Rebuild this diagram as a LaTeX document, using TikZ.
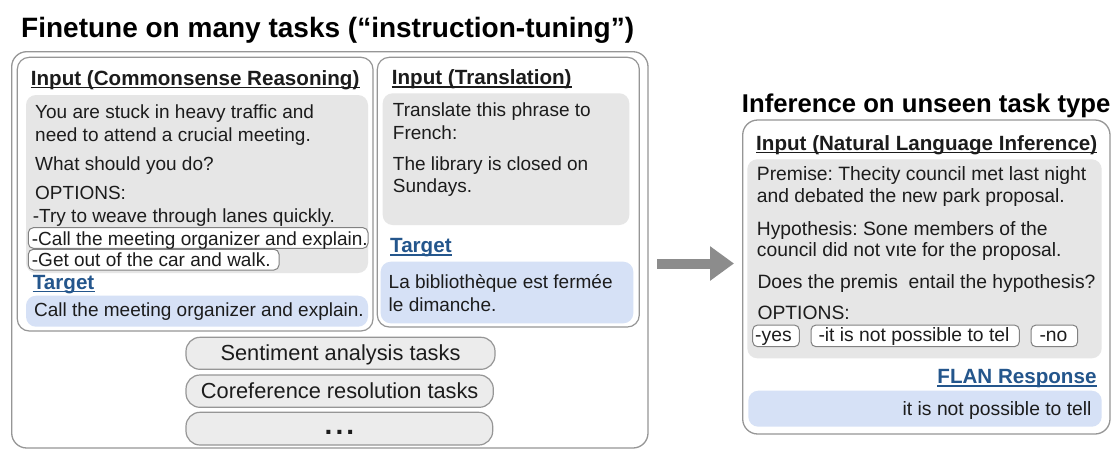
\documentclass[tikz,border=0pt]{standalone}
\usepackage{fontspec}
\setmainfont{Liberation Sans}
\usetikzlibrary{arrows.meta}
\definecolor{ink}{RGB}{28,28,28}
\definecolor{boxgray}{RGB}{230,230,230}
\definecolor{boxblue}{RGB}{214,225,246}
\definecolor{edge}{RGB}{150,150,150}
\definecolor{optedge}{RGB}{130,130,130}
\definecolor{tgtblue}{RGB}{36,86,140}
\definecolor{pillfill}{RGB}{236,236,236}
\definecolor{arrowgray}{RGB}{140,140,140}
\frenchspacing

\begin{document}
\begin{tikzpicture}[x=1pt,y=-1pt,
  panel/.style={draw=edge, line width=1.3pt, fill=white, rounded corners=15pt},
  subpanel/.style={draw=edge, line width=1.2pt, fill=white, rounded corners=12pt},
  inbox/.style={fill=boxgray, rounded corners=10pt},
  outbox/.style={fill=boxblue, rounded corners=10pt},
  optbox/.style={draw=optedge, line width=1pt, fill=white, rounded corners=5pt},
  pill/.style={draw=edge, line width=1.2pt, fill=pillfill, rounded corners=14pt},
  txt/.style={inner sep=0pt, anchor=base west, text=ink, font=\fontsize{19}{23}\selectfont},
  txtR/.style={txt, font=\fontsize{19.3}{23}\selectfont},
  head/.style={inner sep=0pt, anchor=base west, text=ink, font=\bfseries\fontsize{20.6}{24}\selectfont},
  tgt/.style={head, text=tgtblue},
  title/.style={inner sep=0pt, anchor=base west, text=black, font=\bfseries\fontsize{28}{32}\selectfont},
  pilltxt/.style={inner sep=0pt, anchor=base, text=ink, font=\fontsize{21.8}{25}\selectfont},
  uline/.style={line width=1.5pt, draw=ink},
  tline/.style={line width=1.5pt, draw=tgtblue},
  bigarrow/.style={draw=arrowgray, line width=10pt, -{Triangle[length=24pt,width=33pt]}}
]
\useasboundingbox (0,0) rectangle (1118,451);
\fill[white] (0,0) rectangle (1118,451);

% ---------- left: finetuning panel ----------
\node[title] (ttl) at (21,37) {Finetune on many tasks (“instruction-tuning”)};
\draw[panel] (11.7,51.7) rectangle (648,448);

% commonsense reasoning example
\draw[subpanel] (17.3,57.3) rectangle (373,331);
\node[head] (hcs) at (30.7,85) {Input (Commonsense Reasoning)};
\draw[uline] ([yshift=-2.5pt]hcs.base west) -- ([yshift=-2.5pt]hcs.base east);
\path[inbox] (26,95) rectangle (368,273);
\node[txt] (cs1) at (35,118.3) {You are stuck in heavy traffic and};
\node[txt] (cs2) at (35,141) {need to attend a crucial meeting.};
\node[txt] (cs3) at (35,170) {What should you do?};
\node[txt] (cs4) at (35,199) {OPTIONS:};
\node[txt] (cs5) at (32.7,222.3) {-Try to weave through lanes quickly.};
\draw[optbox] (28.3,227.7) rectangle (368,248.3);
\node[txt] (cs6) at (31.7,245) {-Call the meeting organizer and explain.};
\draw[optbox] (28.3,249.3) rectangle (279,270);
\node[txt] (cs7) at (31.7,266.7) {-Get out of the car and walk.};
\node[tgt] (tcs) at (32.7,289) {Target};
\draw[tline] ([yshift=-2.5pt]tcs.base west) -- ([yshift=-2.5pt]tcs.base east);
\path[outbox] (26,295.7) rectangle (368,326.7);
\node[txt] (ocs) at (34,316.7) {Call the meeting organizer and explain.};

% translation example
\draw[subpanel] (377.3,57.3) rectangle (639.3,327);
\node[head] (htr) at (391.7,84.3) {Input (Translation)};
\draw[uline] ([yshift=-2.5pt]htr.base west) -- ([yshift=-2.5pt]htr.base east);
\path[inbox] (382.7,93.3) rectangle (629.3,225);
\node[txt] (tr1) at (392.7,116.7) {Translate this phrase to};
\node[txt] (tr2) at (392.7,139.3) {French:};
\node[txt] (tr3) at (392.7,170) {The library is closed on};
\node[txt] (tr4) at (392.7,192.7) {Sundays.};
\node[tgt] (ttr) at (390,252.7) {Target};
\draw[tline] ([yshift=-2.5pt]ttr.base west) -- ([yshift=-2.5pt]ttr.base east);
\path[outbox] (380.7,261.7) rectangle (633.3,323.3);
\node[txt] (otr1) at (388.5,288.3) {La bibliothèque est fermée};
\node[txt] (otr2) at (388.5,311) {le dimanche.};

% further task clusters
\draw[pill] (186,337.3) rectangle (495,369.3);
\node[pilltxt] (senti) at (340.5,360.7) {Sentiment analysis tasks};
\draw[pill] (186,375) rectangle (493.3,407.3);
\node[pilltxt] (coref) at (339.7,398.3) {Coreference resolution tasks};
\draw[pill] (186,412.3) rectangle (492.7,445);
\node[pilltxt, font=\bfseries\fontsize{28}{30}\selectfont] (more) at (339.4,434) {.\kern3pt.\kern3pt.};

% ---------- arrow between panels ----------
\coordinate (arrS) at (657,263.5);
\coordinate (arrE) at (734,263.5);
\draw[bigarrow] (arrS) -- (arrE);

% ---------- right: inference panel ----------
\node[title, font=\bfseries\fontsize{25.7}{30}\selectfont] (ttr2) at (741.7,112.3) {Inference on unseen task type};
\draw[panel] (742.7,120) rectangle (1110,434);
\node[head] (hnli) at (756,150) {Input (Natural Language Inference)};
\draw[uline] ([yshift=-2.5pt]hnli.base west) -- ([yshift=-2.5pt]hnli.base east);
\path[inbox] (747.3,159.3) rectangle (1101.7,358.3);
\node[txtR] (n1) at (756.7,180) {Premise: Thecity council met last night};
\node[txtR] (n2) at (756.7,202.7) {and debated the new park proposal.};
\node[txtR] (n3) at (756.7,235) {Hypothesis: Sone members of the};
\node[txtR] (n4) at (756.7,256.7) {council did not vıte for the proposal.};
\node[txtR] (n5) at (757.3,288.3) {Does the premis\ \ entail the hypothesis?};
\node[txtR] (n6) at (757.3,319.3) {OPTIONS:};
\draw[optbox] (752.7,325) rectangle (799.3,346.7);
\node[txtR] (o1) at (755,341.7) {-yes};
\draw[optbox] (811,325) rectangle (1019.3,346.7);
\node[txtR] (o2) at (818.3,341.7) {-it is not possible to tel};
\draw[optbox] (1031,325) rectangle (1077.7,346.7);
\node[txtR] (o3) at (1039.3,341.7) {-no};
\node[tgt, anchor=base east] (flan) at (1096.7,383.3) {FLAN Response};
\draw[tline] ([yshift=-2.5pt]flan.base west) -- ([yshift=-2.5pt]flan.base east);
\path[outbox] (748.3,390.7) rectangle (1101.7,426.7);
\node[txtR, anchor=base east] (resp) at (1091.7,415) {it is not possible to tell};
\end{tikzpicture}
\end{document}
